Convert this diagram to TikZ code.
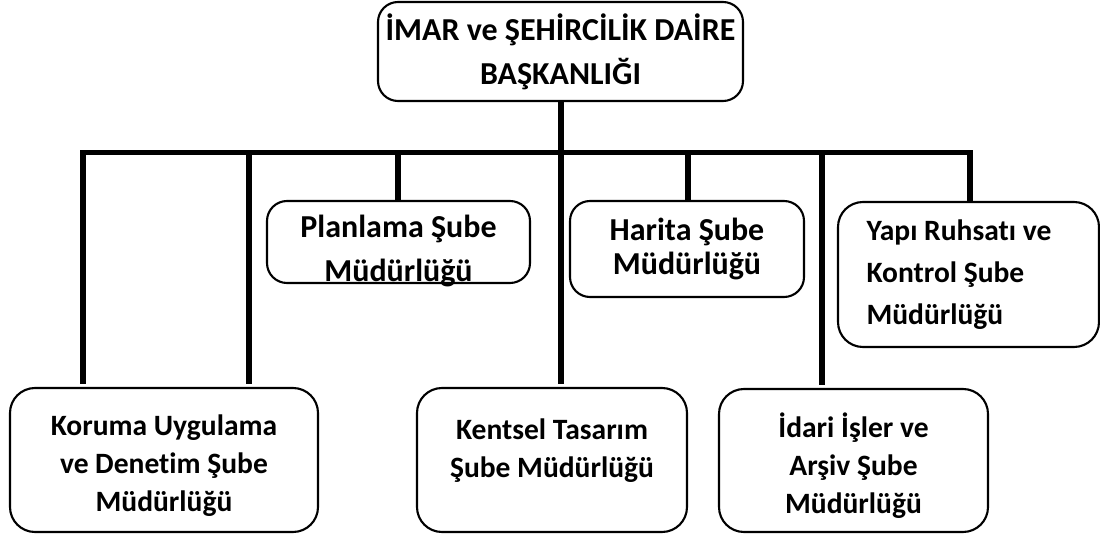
\documentclass[tikz,border=0pt]{standalone}
\usepackage{fontspec}
\setmainfont{Carlito}[Ligatures=NoCommon]
\begin{document}
\begin{tikzpicture}[
  box/.style={draw, line width=1.2pt, rounded corners=0.5cm, fill=white, align=center, inner sep=0pt, outer sep=0pt,
    font=\bfseries\fontsize{16.8}{21.6}\selectfont},
  big/.style={font=\bfseries\fontsize{18.2}{21.6}\selectfont},
  bar/.style={line width=3.4pt}
]
  \useasboundingbox (0,0) rectangle (22,10.7);

  \node[box, big, rounded corners=0.4cm, minimum width=7.3cm, minimum height=1.98cm] (daire) at (11.21,9.67) {İMAR ve ŞEHİRCİLİK DAİRE\\[3.4pt]BAŞKANLIĞI};

  \node[box, big, rounded corners=0.4cm, minimum width=5.26cm, minimum height=1.64cm, text height=44.5pt, text depth=0pt] (planlama) at (7.97,5.86) {Planlama Şube\\[3.4pt]Müdürlüğü};
  \node[box, big, rounded corners=0.4cm, minimum width=4.68cm, minimum height=1.92cm] (harita) at (13.74,5.72) {Harita Şube\\[-2.3pt]Müdürlüğü};
  \node[box, minimum width=5.22cm, minimum height=2.9cm, text width=4.08cm, align=flush left] (yapi) at (19.37,5.21) {Yapı Ruhsatı ve\\[2.2pt]Kontrol Şube\\[2.2pt]Müdürlüğü};

  \node[box, minimum width=6.16cm, minimum height=2.88cm] (koruma) at (3.28,1.50) {\rule{0pt}{18.5pt}Koruma Uygulama\\ve Denetim Şube\\Müdürlüğü};
  \node[box, minimum width=5.4cm, minimum height=2.88cm] (kentsel) at (11.04,1.50) {Kentsel Tasarım\\Şube Müdürlüğü\rule[-14pt]{0pt}{1pt}};
  \node[box, minimum width=5.38cm, minimum height=2.86cm] (idari) at (17.07,1.49) {\rule{0pt}{20pt}İdari İşler ve\\Arşiv Şube\\Müdürlüğü};

  % points de raccordement sur la barre horizontale
  \coordinate (k1) at (1.66,7.65);
  \coordinate (k2) at (4.98,7.65);
  \coordinate (p1) at (7.96,7.65);
  \coordinate (m1) at (11.22,7.65);
  \coordinate (h1) at (13.76,7.65);
  \coordinate (i1) at (16.44,7.65);
  \coordinate (y1) at (19.40,7.65);

  \draw[bar, line cap=rect] (k1) -- (y1);
  \draw[bar] (daire.south -| m1) -- (m1);
  \draw[bar, shorten >=0.08cm] (k1) -- (koruma.north -| k1);
  \draw[bar, shorten >=0.08cm] (k2) -- (koruma.north -| k2);
  \draw[bar] (p1) -- (planlama.north -| p1);
  \draw[bar, shorten >=0.08cm] (m1) -- (kentsel.north -| m1);
  \draw[bar] (h1) -- (harita.north -| h1);
  \draw[bar, shorten >=0.08cm] (i1) -- (idari.north -| i1);
  \draw[bar] (y1) -- (yapi.north -| y1);
\end{tikzpicture}
\end{document}
